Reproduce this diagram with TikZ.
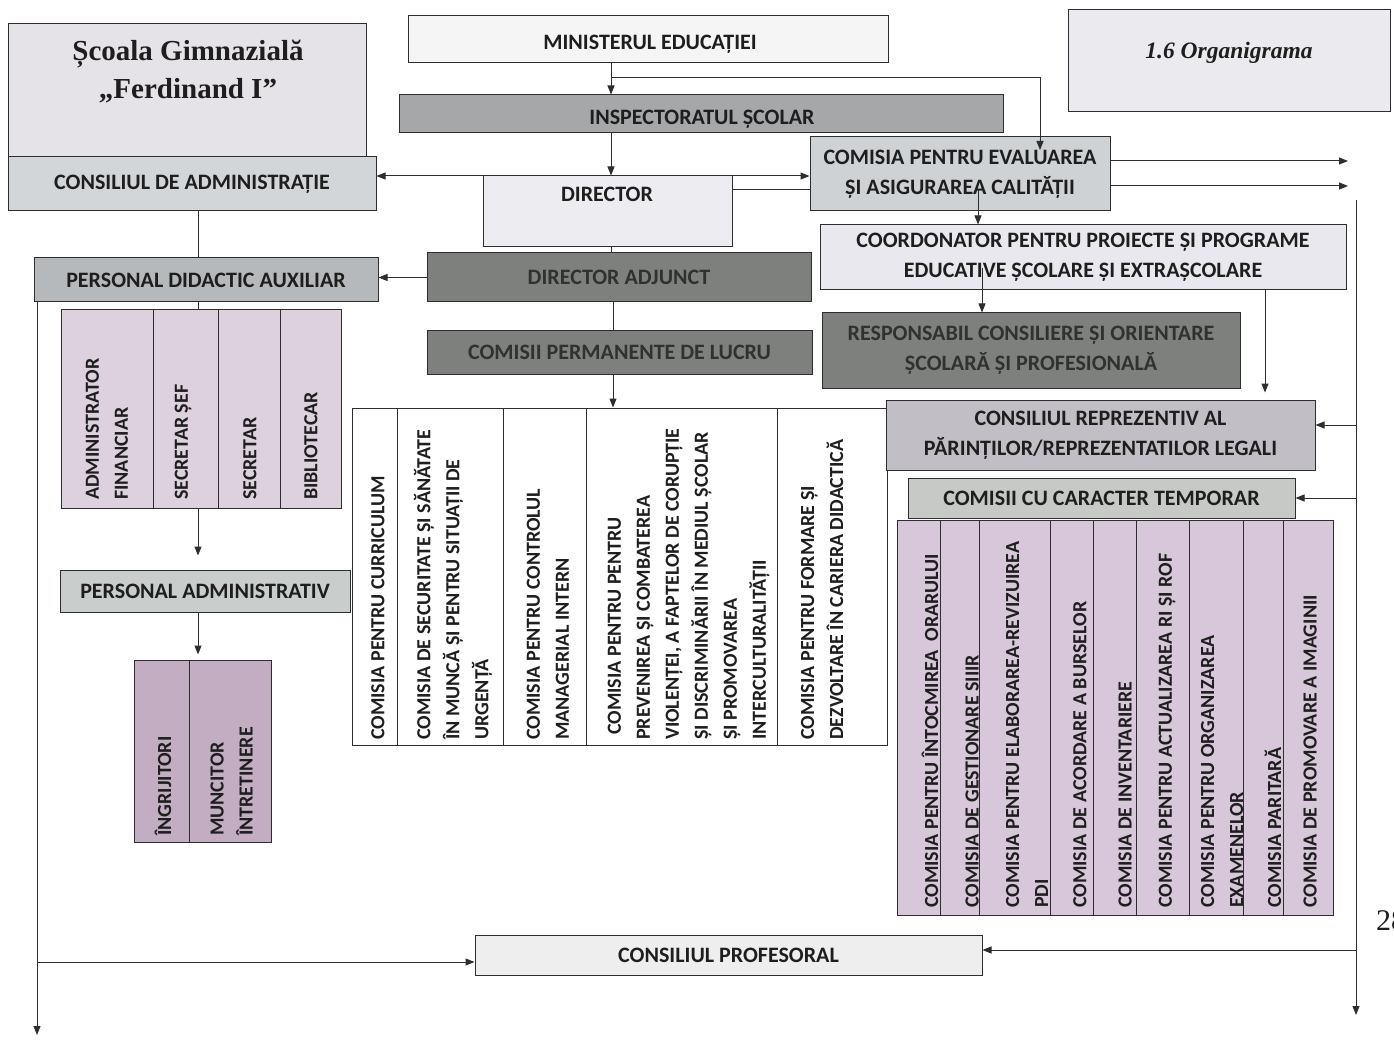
\documentclass[tikz,border=0pt]{standalone}
\usepackage{fontspec}
\setmainfont{Carlito}
\newfontfamily\serifrom{Liberation Serif}
\usetikzlibrary{arrows.meta}
\definecolor{linec}{HTML}{2E2E2E}
\definecolor{textc}{HTML}{1E1E1E}
\definecolor{darktext}{HTML}{2F3230}
\definecolor{schoolc}{HTML}{E5E3E8}
\definecolor{cdac}{HTML}{D3D6D9}
\definecolor{minc}{HTML}{F5F5F6}
\definecolor{orgc}{HTML}{EBEAEE}
\definecolor{inspc}{HTML}{A6A7A8}
\definecolor{dirc}{HTML}{EDEDF1}
\definecolor{evalc}{HTML}{CFD2D5}
\definecolor{coordc}{HTML}{E8E8EE}
\definecolor{darkc}{HTML}{7E807E}
\definecolor{pdac}{HTML}{B6B9BB}
\definecolor{repc}{HTML}{C2BEC6}
\definecolor{tmpc}{HTML}{C6C9C6}
\definecolor{ltabc}{HTML}{DDD1DE}
\definecolor{pac}{HTML}{C9CDCB}
\definecolor{itabc}{HTML}{C2ADC3}
\definecolor{rtabc}{HTML}{D8C6DA}
\definecolor{profc}{HTML}{EEEEEE}
\begin{document}
\begin{tikzpicture}[x=1pt,y=-1pt,
  lab/.style={font=\fontsize{22}{30}\selectfont\bfseries, text=textc, align=center},
  box/.style={draw=linec, line width=1pt, inner sep=0pt, lab},
  tabtxt/.style={font=\fontsize{20}{29}\selectfont\bfseries, text=textc, align=left, rotate=90, anchor=west, inner sep=0pt},
  col/.style={draw=linec, line width=1pt, inner sep=0pt},
  arr/.style={draw=linec, line width=1pt, -{Triangle[length=9pt,width=7pt]}},
  darr/.style={draw=linec, line width=1pt, {Triangle[length=9pt,width=7pt]}-{Triangle[length=9pt,width=7pt]}},
  ln/.style={draw=linec, line width=1pt},
]
\fill[white] (0,0) rectangle (1394,1040);
\useasboundingbox (0,0) rectangle (1394,1040);

% ---------- top boxes ----------
\node[box, fill=schoolc, minimum width=358pt, minimum height=134pt] (school) at (187,91) {};
\node[font=\serifrom\fontsize{29}{38}\selectfont\bfseries, text=textc, align=center] (schooltxt) at (188,72) {Școala Gimnazială\\„Ferdinand I”};
\node[box, fill=cdac, minimum width=368pt, minimum height=54pt] (cda) at (192,184) {CONSILIUL DE ADMINISTRAȚIE};
\node[box, fill=minc, minimum width=480pt, minimum height=47pt] (min) at (648,39) {};
\node[lab] (mintxt) at (650,44) {MINISTERUL EDUCAȚIEI};
\node[box, fill=orgc, minimum width=322pt, minimum height=102pt] (org) at (1229,61) {};
\node[font=\serifrom\fontsize{23.5}{26}\selectfont\bfseries\itshape, text=textc] (orgtxt) at (1229,53) {1.6 Organigrama};
\node[box, fill=inspc, minimum width=604pt, minimum height=38pt] (insp) at (701,114) {};
\node[lab] (insptxt) at (702,119) {INSPECTORATUL ȘCOLAR};
\node[box, fill=dirc, minimum width=249pt, minimum height=71pt] (dir) at (607.5,211.5) {};
\node[lab] (dirtxt) at (607,194) {DIRECTOR};
\node[box, fill=evalc, minimum width=300pt, minimum height=74pt] (eval) at (960,174) {COMISIA PENTRU EVALUAREA\\ȘI ASIGURAREA CALITĂȚII};
\node[box, fill=coordc, minimum width=526pt, minimum height=65pt] (coord) at (1083,257.5) {COORDONATOR PENTRU PROIECTE ȘI PROGRAME\\EDUCATIVE ȘCOLARE ȘI EXTRAȘCOLARE};
\node[box, fill=darkc, text=darktext, minimum width=384pt, minimum height=49pt] (da) at (619,277.5) {DIRECTOR ADJUNCT};
\node[box, fill=pdac, minimum width=344pt, minimum height=44pt] (pda) at (206,280) {PERSONAL DIDACTIC AUXILIAR};
\node[box, fill=darkc, text=darktext, minimum width=385pt, minimum height=43pt] (cp) at (619.5,352.5) {COMISII PERMANENTE DE LUCRU};
\node[box, fill=darkc, text=darktext, minimum width=418pt, minimum height=75pt] (resp) at (1031,350.5) {RESPONSABIL CONSILIERE ȘI ORIENTARE\\ȘCOLARĂ ȘI PROFESIONALĂ};

% ---------- centre table ----------
\node[col, fill=white, minimum width=45pt, minimum height=337pt] (c1) at (374.5,576.5) {};
\node[col, fill=white, minimum width=106pt, minimum height=337pt] (c2) at (450,576.5) {};
\node[col, fill=white, minimum width=83pt, minimum height=337pt] (c3) at (544.5,576.5) {};
\node[col, fill=white, minimum width=191pt, minimum height=337pt] (c4) at (681.5,576.5) {};
\node[col, fill=white, minimum width=110pt, minimum height=337pt] (c5) at (832,576.5) {};
\node[tabtxt] (c1t) at (378,740) {COMISIA PENTRU CURRICULUM};
\node[tabtxt] (c2t) at (453,740) {COMISIA DE SECURITATE ȘI SĂNĂTATE\\ÎN MUNCĂ ȘI PENTRU SITUAȚII DE\\URGENȚĂ};
\node[tabtxt] (c3t) at (548,740) {COMISIA PENTRU CONTROLUL\\MANAGERIAL INTERN};
\node[tabtxt] (c4t) at (688.5,740) {\hspace*{5pt}COMISIA PENTRU PENTRU\\PREVENIREA ȘI COMBATEREA\\VIOLENȚEI, A FAPTELOR DE CORUPȚIE\\ȘI DISCRIMINĂRII ÎN MEDIUL ȘCOLAR\\ȘI PROMOVAREA\\INTERCULTURALITĂȚII};
\node[tabtxt] (c5t) at (822,740) {COMISIA PENTRU FORMARE ȘI\\DEZVOLTARE ÎN CARIERA DIDACTICĂ};

% ---------- right side ----------
\node[box, fill=repc, minimum width=429pt, minimum height=70pt] (rep) at (1100.5,435) {CONSILIUL REPREZENTIV AL\\PĂRINȚILOR/REPREZENTATILOR LEGALI};
\node[box, fill=tmpc, minimum width=387pt, minimum height=40pt] (tmp) at (1101.5,498) {COMISII CU CARACTER TEMPORAR};
\node[col, fill=rtabc, minimum width=43pt, minimum height=395pt] (r1) at (918.5,717.5) {};
\node[col, fill=rtabc, minimum width=39pt, minimum height=395pt] (r2) at (959.5,717.5) {};
\node[col, fill=rtabc, minimum width=71pt, minimum height=395pt] (r3) at (1014.5,717.5) {};
\node[col, fill=rtabc, minimum width=43pt, minimum height=395pt] (r4) at (1071.5,717.5) {};
\node[col, fill=rtabc, minimum width=43pt, minimum height=395pt] (r5) at (1114.5,717.5) {};
\node[col, fill=rtabc, minimum width=53pt, minimum height=395pt] (r6) at (1162.5,717.5) {};
\node[col, fill=rtabc, minimum width=54pt, minimum height=395pt] (r7) at (1216,717.5) {};
\node[col, fill=rtabc, minimum width=40pt, minimum height=395pt] (r8) at (1263,717.5) {};
\node[col, fill=rtabc, minimum width=50pt, minimum height=395pt] (r9) at (1308,717.5) {};
\node[tabtxt] (r1t) at (930,908) {COMISIA PENTRU ÎNTOCMIREA\ \ ORARULUI};
\node[tabtxt] (r2t) at (972,908) {COMISIA DE GESTIONARE SIIIR};
\node[tabtxt] (r3t) at (1027,908) {COMISIA PENTRU ELABORAREA-REVIZUIREA\\PDI};
\node[tabtxt] (r4t) at (1080,908) {COMISIA DE ACORDARE A BURSELOR};
\node[tabtxt] (r5t) at (1125,908) {COMISIA DE INVENTARIERE};
\node[tabtxt] (r6t) at (1167,908) {COMISIA PENTRU ACTUALIZAREA RI ȘI ROF};
\node[tabtxt] (r7t) at (1222,908) {COMISIA PENTRU ORGANIZAREA\\EXAMENELOR};
\node[tabtxt] (r8t) at (1273,908) {COMISIA PARITARĂ};
\node[tabtxt] (r9t) at (1310,908) {COMISIA DE PROMOVARE A IMAGINII};

% ---------- left side ----------
\node[col, fill=ltabc, minimum width=92pt, minimum height=198pt] (l1) at (107,409) {};
\node[col, fill=ltabc, minimum width=65pt, minimum height=198pt] (l2) at (185.5,409) {};
\node[col, fill=ltabc, minimum width=62pt, minimum height=198pt] (l3) at (249,409) {};
\node[col, fill=ltabc, minimum width=61pt, minimum height=198pt] (l4) at (310.5,409) {};
\node[tabtxt] (l1t) at (107,500) {ADMINISTRATOR\\FINANCIAR};
\node[tabtxt] (l2t) at (183,500) {SECRETAR ȘEF};
\node[tabtxt] (l3t) at (250,500) {SECRETAR};
\node[tabtxt] (l4t) at (311,500) {BIBLIOTECAR};
\node[box, fill=pac, minimum width=290pt, minimum height=42pt] (pa) at (205,591) {PERSONAL ADMINISTRATIV};
\node[col, fill=itabc, minimum width=55pt, minimum height=182pt] (i1) at (161.5,751) {};
\node[col, fill=itabc, minimum width=82pt, minimum height=182pt] (i2) at (230,751) {};
\node[tabtxt] (i1t) at (163,836) {ÎNGRIJITORI};
\node[tabtxt] (i2t) at (231.5,836) {MUNCITOR\\ÎNTRETINERE};

% ---------- bottom ----------
\node[box, fill=profc, minimum width=507pt, minimum height=40pt] (prof) at (728.5,955) {CONSILIUL PROFESORAL};
\node[font=\serifrom\fontsize{30}{32}\selectfont, text=textc, anchor=west, inner sep=0pt] (pg) at (1376,921) {28};

% ---------- connector coordinates ----------
\coordinate (xm) at (611,0);
\coordinate (bm) at (611,78);
\coordinate (evtip) at (1040,150);
\coordinate (ya) at (0,176);
\coordinate (yb) at (0,190);
\coordinate (e1) at (1348,161);
\coordinate (e2) at (1348,186);
\coordinate (cstart) at (978,190);
\coordinate (rstart) at (982,268);
\coordinate (xr) at (1265,0);
\coordinate (rt) at (1356,200);
\coordinate (rb) at (1356,1015);
\coordinate (lt) at (37,302);
\coordinate (lb) at (37,1035);
\coordinate (y1) at (0,425);
\coordinate (y2) at (0,498);
\coordinate (y3) at (0,950);
\coordinate (y4) at (0,962);
\coordinate (xl) at (198,0);
\coordinate (xd) at (613,0);

% ---------- connectors ----------
\draw[arr] (min.south -| xm) -- (insp.north -| xm);
\draw[arr] (bm) -| (evtip);
\draw[arr] (insp.south -| xm) -- (dir.north -| xm);
\draw[darr] (cda.east |- ya) -- (eval.west |- ya);
\draw[ln] (dir.east |- yb) -- (eval.west |- yb);
\draw[arr] (eval.east |- e1) -- (e1);
\draw[arr] (eval.east |- e2) -- (e2);
\draw[arr] (cstart) -- (coord.north -| cstart);
\draw[arr] (rstart) -- (resp.north -| rstart);
\draw[arr, shorten >=7pt] (coord.south -| xr) -- (rep.north -| xr);
\draw[arr] (rt) -- (rb);
\draw[arr] (rt |- y1) -- (rep.east |- y1);
\draw[arr] (rt |- y2) -- (tmp.east |- y2);
\draw[arr] (rt |- y3) -- (prof.east |- y3);
\draw[arr] (lt) -- (lb);
\draw[arr] (lt |- y4) -- (prof.west |- y4);
\draw[ln] (cda.south -| xl) -- (pda.north -| xl);
\draw[ln] (dir.south -| xm) -- (da.north -| xm);
\draw[arr] (da.west) -- (pda.east |- da.west);
\draw[ln] (da.south -| xd) -- (cp.north -| xd);
\draw[arr] (cp.south -| xd) -- (c4.north -| xd);
\draw[ln] (pda.south -| xl) -- (l2.north -| xl);
\draw[arr, shorten >=14pt] (l2.south -| xl) -- (pa.north -| xl);
\draw[arr, shorten >=5pt] (pa.south -| xl) -- (i2.north -| xl);
\end{tikzpicture}
\end{document}
